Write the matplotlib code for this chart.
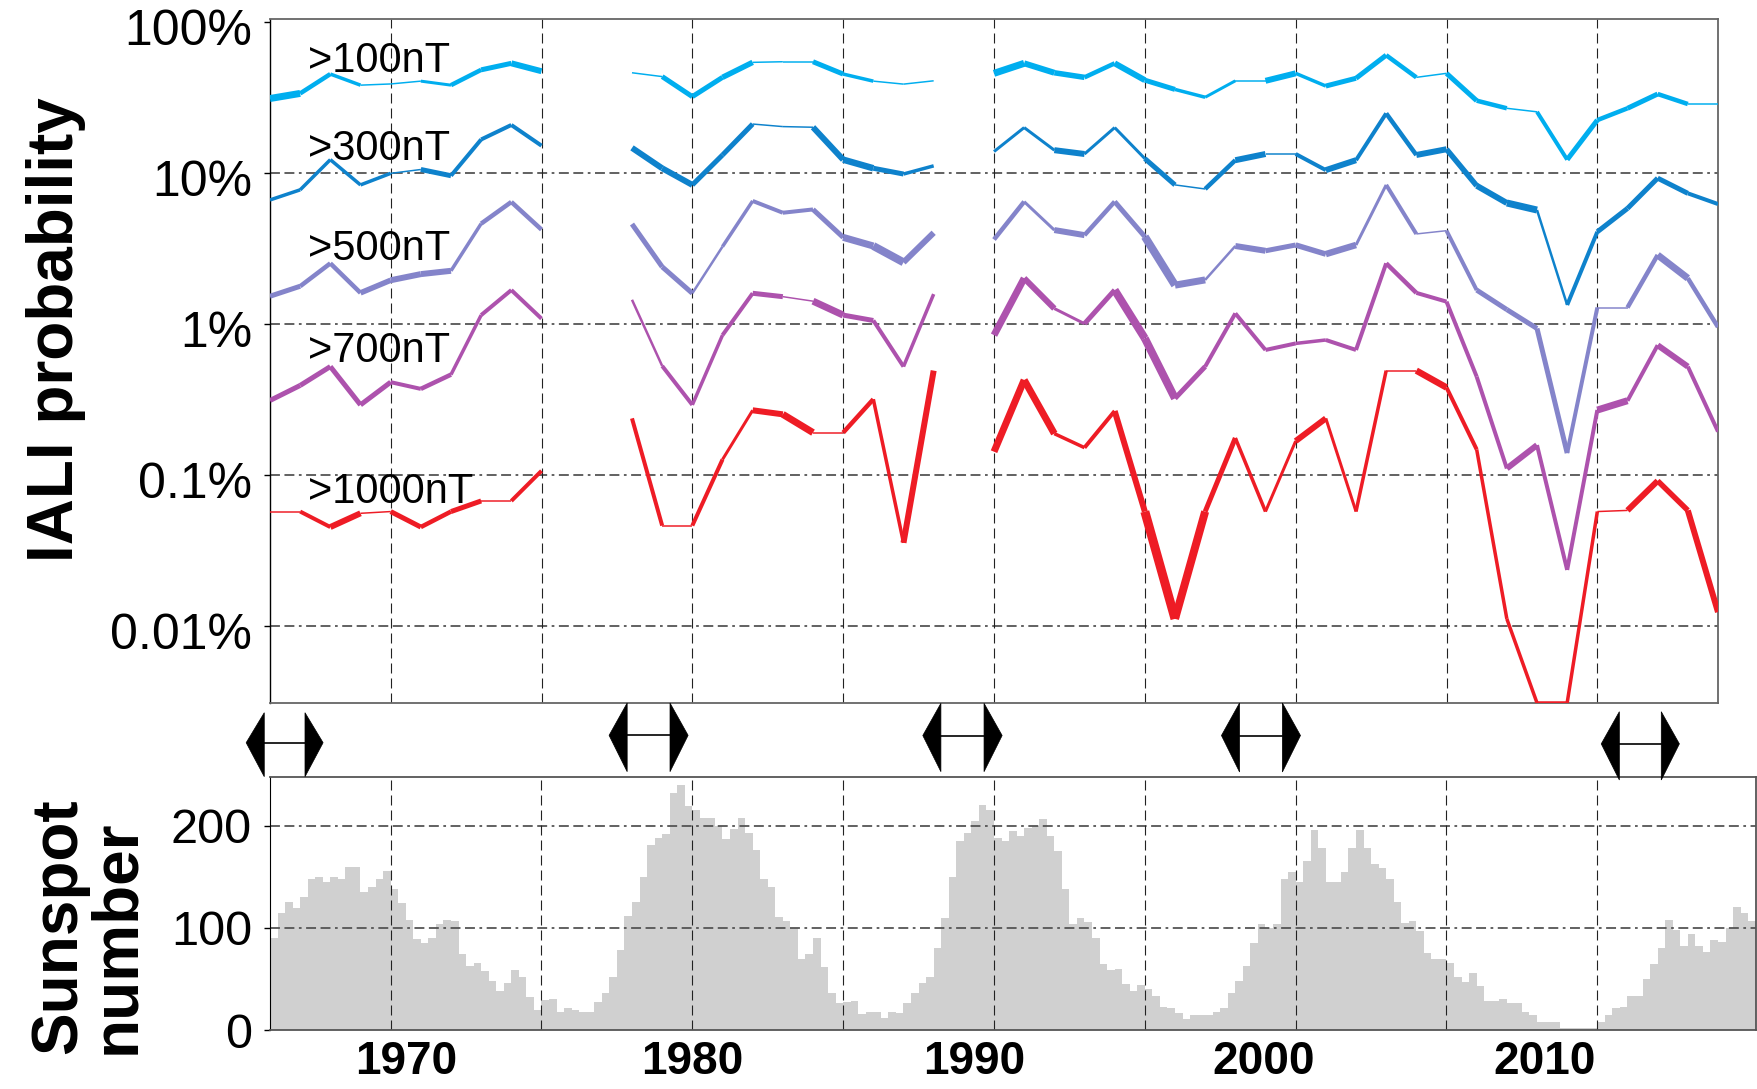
import numpy as np
import matplotlib
matplotlib.use("Agg")
import matplotlib.pyplot as plt
from matplotlib.collections import LineCollection
from matplotlib.patches import Polygon
import matplotlib.transforms as mtransforms
from matplotlib.ticker import NullLocator

nan = np.nan

# ---------------- data ----------------
years = list(range(1966, 2015))

p100 = [31, 33.5, 45, 38, 38.7, 40.4, 38, 48, 53, 47, nan, nan,
        45.9, 43.3, 31.9, 42.8, 53.8, 54.3, 54.3, 45, 40.4, 38.6, 40.6, nan,
        45.5, 53, 45.9, 42.8, 53, 41, 35.6, 31.6, 40.6, 40.6, 45.5, 37.5, 42.2, 60,
        42.8, 45.5, 30, 26.7, 25.3, 12.2, 22.3, 26.7, 33.2, 28.5, 28.5]
p300 = [6.6, 7.7, 12.2, 8.3, 9.9, 10.5, 9.55, 16.6, 20.7, 15.1, nan, nan,
        14.6, 10.7, 8.3, 13.1, 21, 20.2, 20, 12.2, 10.7, 9.8, 11.1, nan,
        13.8, 19.9, 14.1, 13.3, 19.9, 12.4, 8.3, 7.8, 12.1, 13.3, 13.3, 10.4, 12.1, 24.7,
        13.1, 14.3, 8.2, 6.3, 5.66, 1.33, 4.06, 5.8, 9.2, 7.3, 6.2]
p500 = [1.52, 1.77, 2.51, 1.60, 1.94, 2.13, 2.24, 4.6, 6.4, 4.2, nan, nan,
        4.57, 2.38, 1.59, 3.24, 6.5, 5.43, 5.71, 3.73, 3.27, 2.55, 4.0, nan,
        3.61, 6.43, 4.17, 3.86, 6.43, 3.77, 1.80, 1.95, 3.27, 3.04, 3.32, 2.89, 3.32, 8.3,
        3.93, 4.13, 1.67, 1.24, 0.93, 0.139, 1.28, 1.28, 2.85, 2.0, 0.95]
p700 = [0.31, 0.39, 0.52, 0.29, 0.41, 0.37, 0.46, 1.14, 1.67, 1.08, nan, nan,
        1.44, 0.525, 0.29, 0.84, 1.59, 1.51, 1.41, 1.14, 1.05, 0.52, 1.57, nan,
        0.84, 2.0, 1.26, 1.0, 1.67, 0.8, 0.32, 0.52, 1.17, 0.67, 0.74, 0.78, 0.67, 2.51,
        1.60, 1.40, 0.446, 0.110, 0.157, 0.0234, 0.268, 0.309, 0.72, 0.52, 0.193]
p1000 = [0.057, 0.057, 0.045, 0.0555, 0.057, 0.045, 0.057, 0.067, 0.067, 0.106, nan, nan,
         0.236, 0.046, 0.046, 0.126, 0.267, 0.251, 0.19, 0.19, 0.316, 0.0354, 0.489, nan,
         0.142, 0.424, 0.187, 0.151, 0.264, 0.057, 0.0111, 0.057, 0.175, 0.057, 0.167, 0.236, 0.057, 0.489,
         0.489, 0.378, 0.147, 0.0111, 0.00308, 0.00308, 0.057, 0.058, 0.091, 0.058, 0.0123]

# per-segment line widths (pixels), segment i joins years[i] and years[i+1]
w100 = [7, 4.5, 3.5, 1.5, 1.5, 3, 4.5, 5, 6, 0, 0, 0,
        1.5, 5, 5, 5.5, 1.5, 1.5, 5, 3.5, 1.5, 1.5, 0, 0,
        7, 6, 5.5, 4.5, 6, 5, 3.5, 3, 1.5, 6, 3.5, 5, 5, 4.5, 1.5, 5, 4.5, 1.5, 4, 5, 4.5, 5, 4.5, 1.5]
w300 = [3.5, 3.5, 3.5, 3.5, 1.5, 5, 4, 4, 4, 0, 0, 0,
        6, 6, 5, 5, 1.5, 1.5, 6, 6.5, 5, 3.5, 0, 0,
        3, 3, 6, 3, 3, 5, 1.5, 4.5, 6, 1.5, 4, 6, 4, 4.5, 6, 5.5, 6, 7, 2.5, 4, 5, 5, 5, 4]
w500 = [5, 4.5, 4.5, 5.5, 6, 6, 3.5, 4.5, 4.5, 0, 0, 0,
        5, 5, 2.5, 3.5, 4, 4, 5, 7, 8, 6, 0, 0,
        4.5, 3, 6, 4.5, 5, 8, 7, 2.5, 6, 5, 5.5, 6.5, 3, 4, 1.5, 4, 5, 5, 5, 4, 1.5, 4.5, 7, 4.5]
w700 = [5, 5, 5, 5, 4, 4.5, 3.5, 4, 4, 0, 0, 0,
        2.5, 4, 3.5, 4, 5, 1.5, 7, 5, 4, 3.5, 0, 0,
        7, 6, 3, 5, 8, 8, 5, 4, 4, 4, 3.5, 4, 4, 4.5, 4, 4, 4, 6, 4, 4, 7, 4, 6, 4]
w1000 = [1.5, 4, 6, 1.5, 5, 4.5, 5, 1.5, 4, 0, 0, 0,
         4, 1.5, 4, 3, 6, 7, 1.5, 4.5, 3.5, 6, 0, 0,
         7, 7, 3.5, 4, 6, 9, 8, 5, 3.5, 3, 6, 3, 3.5, 1.5, 6.5, 4, 3.5, 3.5, 3.5, 3.5, 1.5, 6, 5.5, 6]

series_labels = [">100nT", ">300nT", ">500nT", ">700nT", ">1000nT"]
series_colors = ["#00aeef", "#0e82cc", "#8484ca", "#ad52ad", "#ee1c25"]

# sunspot number, quarterly from 1966.0
ssn_start = 1966.0
ssn_step = 0.25
ssn = [90, 115, 125, 119, 130, 148, 150, 145, 150, 148, 160, 160,
       135, 140, 148, 156, 138, 124, 108, 89, 85, 90, 104, 108,
       107, 74, 63, 66, 58, 48, 38, 46, 59, 52, 32, 20,
       29, 30, 18, 22, 20, 18, 18, 27, 36, 52, 78, 112,
       125, 150, 181, 188, 192, 232, 240, 219, 215, 208, 208, 200,
       187, 197, 208, 193, 176, 148, 140, 111, 107, 100, 70, 74,
       90, 62, 36, 26, 27, 28, 16, 18, 18, 12, 18, 17,
       26, 36, 46, 52, 80, 110, 150, 185, 193, 205, 220, 215,
       188, 185, 195, 190, 198, 200, 207, 190, 175, 138, 104, 110,
       106, 90, 65, 59, 60, 45, 38, 44, 40, 33, 23, 22,
       17, 11, 15, 15, 15, 18, 22, 36, 48, 63, 85, 104,
       100, 104, 148, 155, 145, 165, 196, 178, 145, 145, 155, 178,
       196, 178, 163, 159, 148, 125, 105, 107, 97, 75, 70, 70,
       66, 52, 47, 56, 43, 28, 28, 30, 26, 26, 18, 15,
       8, 8, 8, 2, 2, 2, 2, 2, 8, 15, 22, 23,
       33, 33, 50, 65, 80, 108, 98, 82, 94, 82, 76, 88,
       86, 100, 120, 115, 107]

# double arrows between the panels (start / end years)
arrow_left = [1965.81, 1977.84, 1988.24, 1998.14, 2010.73]
arrow_right = [1967.16, 1979.26, 1989.67, 1999.56, 2012.12]

ytick_vals = [100, 10, 1, 0.1, 0.01]
ytick_labels = ["100%", "10%", "1%", "0.1%", "0.01%"]
ssn_ticks = [0, 100, 200]
year_labels = ["1970", "1980", "1990", "2000", "2010"]
year_label_pos = [1970.5, 1980.0, 1989.35, 1998.95, 2008.25]
grid_years = [1970, 1975, 1980, 1985, 1990, 1995, 2000, 2005, 2010]

# ---------------- drawing ----------------
plt.rcParams["font.family"] = ["Liberation Sans", "DejaVu Sans"]
W, H = 1758, 1089
fig = plt.figure(figsize=(W / 100, H / 100), dpi=100)
PX = 0.72  # points per pixel

hdash = (0, (5.5, 2.5, 5.5, 2.5, 1.5, 2.5))
vdash = (0, (9, 4.5))

# top panel
ax1 = fig.add_axes([270 / W, 1 - 703 / H, 1448 / W, 684 / H])
ax1.set_yscale("log")
ax1.set_xlim(1966, 2014)
ax1.set_ylim(0.003076, 104.2)
for v in ytick_vals[1:]:
    ax1.axhline(v, color="#555555", lw=1.3, ls=hdash, zorder=1)
for yr in grid_years:
    ax1.axvline(yr, color="#222222", lw=0.8, ls=vdash, zorder=1)

all_vals = [p100, p300, p500, p700, p1000]
all_w = [w100, w300, w500, w700, w1000]
for vals, ws, col in zip(all_vals, all_w, series_colors):
    segs, lws = [], []
    for i in range(len(years) - 1):
        a, b = vals[i], vals[i + 1]
        if np.isfinite(a) and np.isfinite(b) and ws[i] > 0:
            segs.append([(years[i], a), (years[i + 1], b)])
            lws.append(ws[i] * PX)
    lc = LineCollection(segs, linewidths=lws, colors=col, capstyle="butt", zorder=3)
    ax1.add_collection(lc)

label_fracs = [0.9225, 0.7939, 0.6477, 0.4985, 0.2924]
for txt, fy in zip(series_labels, label_fracs):
    ax1.text(0.0262, fy, txt, transform=ax1.transAxes, fontsize=30,
             ha="left", va="baseline", zorder=5)

ax1.set_yticks(ytick_vals)
ax1.set_yticklabels(ytick_labels)
ax1.yaxis.set_minor_locator(NullLocator())
ax1.set_xticks([])
ax1.tick_params(axis="y", length=4, width=1, pad=9, labelsize=36, direction="out")
off = mtransforms.ScaledTranslation(0, -5 / 100, fig.dpi_scale_trans)
for lab in ax1.get_yticklabels():
    lab.set_transform(lab.get_transform() + off)
for s in ["top", "bottom", "right"]:
    ax1.spines[s].set_color("#666666")
    ax1.spines[s].set_linewidth(1.3)
ax1.spines["left"].set_color("black")
ax1.spines["left"].set_linewidth(1.0)

# sunspot panel
ax2 = fig.add_axes([270 / W, 1 - 1030 / H, 1486 / W, 253.3 / H])
ax2.set_xlim(1966, 2015.26)
ax2.set_ylim(0, 248)
edges = ssn_start + ssn_step * np.arange(len(ssn) + 1)
ax2.stairs(ssn, edges, fill=True, color="#d0d0d0", linewidth=0, zorder=1)
for v in ssn_ticks[1:]:
    ax2.axhline(v, color="#555555", lw=1.3, ls=hdash, zorder=2)
for yr in grid_years:
    ax2.axvline(yr, color="#222222", lw=0.8, ls=vdash, zorder=2)
ax2.set_yticks(ssn_ticks)
ax2.tick_params(axis="y", length=4, width=1, pad=9, labelsize=35, direction="out")
ax2.set_xticks(year_label_pos)
ax2.set_xticklabels(year_labels, fontweight="bold")
ax2.tick_params(axis="x", length=0, pad=7, labelsize=33)
for s in ["top", "bottom", "right"]:
    ax2.spines[s].set_color("#555555")
    ax2.spines[s].set_linewidth(1.3)
ax2.spines["left"].set_color("black")

# arrows strip (y in pixel rows)
ax3 = fig.add_axes([270 / W, 1 - 781 / H, 1486 / W, 79 / H])
ax3.set_xlim(1966, 2015.26)
ax3.set_ylim(781, 702)
ax3.axis("off")
arrow_top = [712.7, 703, 703.3, 703, 711.7]
arrow_bot = [776.7, 771.7, 771.7, 772, 780]
head = 0.6
for a, b, t, bt in zip(arrow_left, arrow_right, arrow_top, arrow_bot):
    m = 0.5 * (t + bt) - 2
    ax3.add_patch(Polygon([(a, t), (a, bt), (a - head, m)], closed=True,
                          facecolor="black", edgecolor="black", lw=0.5, clip_on=False))
    ax3.add_patch(Polygon([(b, t), (b, bt), (b + head, m)], closed=True,
                          facecolor="black", edgecolor="black", lw=0.5, clip_on=False))
    ax3.plot([a, b], [m, m], color="black", lw=1.2, clip_on=False)

# axis titles
fig.text(56 / W, 1 - 330 / H, "IALI probability", rotation=90, fontsize=46,
         fontweight="bold", ha="center", va="center")
fig.text(88 / W, 1 - 1054 / H, "Sunspot\nnumber", rotation=90, fontsize=46,
         fontweight="bold", ha="center", va="bottom", multialignment="left",
         linespacing=0.95)

fig.savefig("out.png", dpi=100)
